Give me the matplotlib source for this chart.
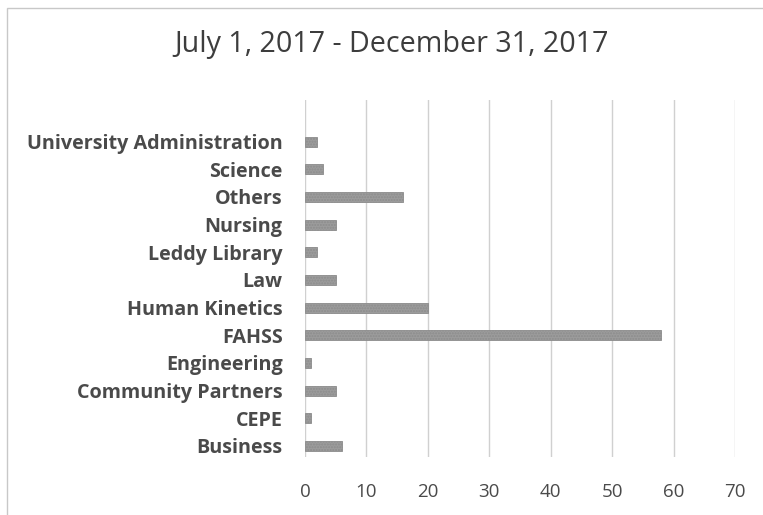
import matplotlib
matplotlib.use("Agg")
import matplotlib.pyplot as plt
from matplotlib.patches import Rectangle

plt.rcParams['font.family'] = ['Open Sans', 'DejaVu Sans']
plt.rcParams['hatch.color'] = "#b5b5b5"

# categories listed bottom to top, as they stack on the y axis
departments = ["Business", "CEPE", "Community Partners", "Engineering", "FAHSS",
               "Human Kinetics", "Law", "Leddy Library", "Nursing", "Others",
               "Science", "University Administration"]
counts = [6, 1, 5, 1, 58, 20, 5, 2, 5, 16, 3, 2]
x_ticks = [0, 10, 20, 30, 40, 50, 60, 70]
title = "July 1, 2017 - December 31, 2017"

fig = plt.figure(figsize=(7.63, 5.15), dpi=100)
ax = fig.add_axes([0.3997, 0.1126, 0.5636, 0.6932])

pos = list(range(len(departments)))
ax.barh(pos, counts, height=0.36, color="#9c9c9c", edgecolor="#8c8c8c",
        linewidth=0.6, hatch="......", zorder=3)

ax.set_xlim(0, 70)
ax.set_ylim(-0.4, 12.5)
ax.set_xticks(x_ticks)
ax.set_xticklabels([str(t) for t in x_ticks], fontsize=13.5, color="#4a4a4a")
ax.set_yticks(pos)
ax.set_yticklabels(departments, fontsize=14.2, fontweight="bold", color="#4a4a4a")
ax.tick_params(axis="both", length=0)
ax.tick_params(axis="x", pad=19)
ax.tick_params(axis="y", pad=16)
ax.xaxis.grid(True, color="#d0d0d0", linewidth=1.0, zorder=0)
for s in ax.spines.values():
    s.set_visible(False)

fig.text(0.513, 0.913, title, ha="center", va="center", fontsize=20.6, color="#3d3d3d")

# outer frame of the chart area
fig.patches.append(Rectangle((0.009, -0.01), 1.2, 0.995, transform=fig.transFigure,
                             fill=False, edgecolor="#c8c8c8", linewidth=1.0))

fig.savefig("out.png", dpi=100)
